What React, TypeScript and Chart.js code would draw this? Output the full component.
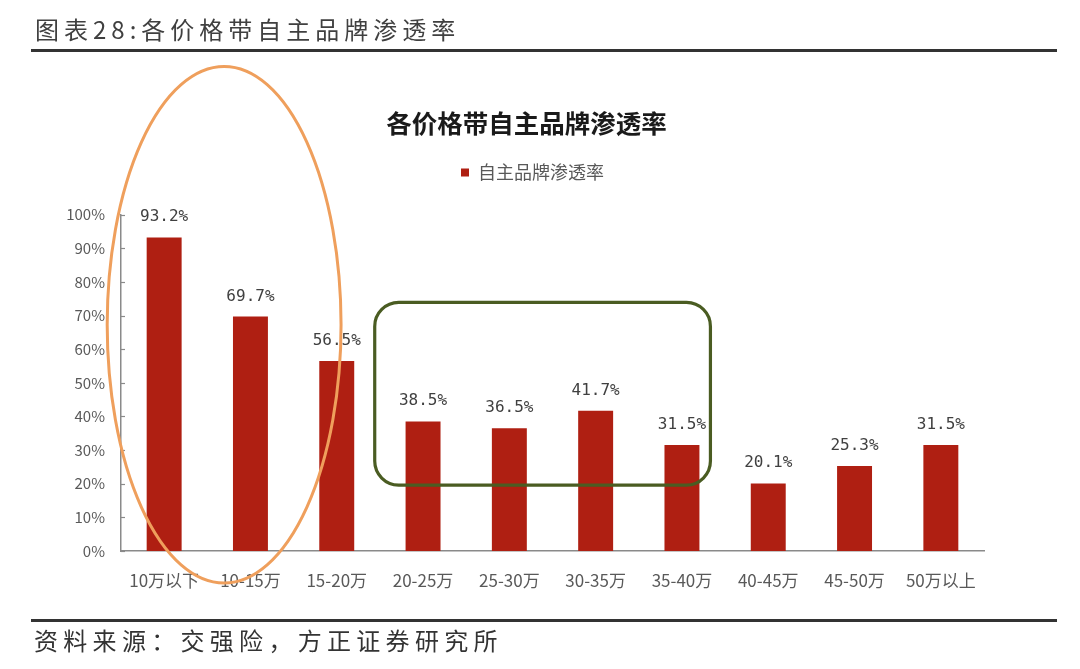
import React, { useEffect, useRef } from 'react';
import { Chart, registerables } from 'chart.js';

Chart.register(...registerables);

// ---- data ----
const categories = ['10万以下', '10-15万', '15-20万', '20-25万', '25-30万', '30-35万', '35-40万', '40-45万', '45-50万', '50万以上'];
const penetration = [93.2, 69.7, 56.5, 38.5, 36.5, 41.7, 31.5, 20.1, 25.3, 31.5];
const seriesName = '自主品牌渗透率';
const chartTitle = '各价格带自主品牌渗透率';
const headerText = '图表28:各价格带自主品牌渗透率';
const sourceText = '资料来源：交强险，方正证券研究所';
const yMin = 0;
const yMax = 100;
const yStep = 10;

// annotation extents in data units (category index / percent)
const ellipseSpan = { xFrom: -0.66, xTo: 2.05, yFrom: -9.5, yTo: 144 };
const boxSpan = { xFrom: 2.44, xTo: 6.33, yFrom: 19.6, yTo: 73.9 };

const BAR_COLOR = '#AF1F12';
const AXIS_COLOR = '#8a8a8a';
const TEXT_GRAY = '#595959';
const CJK = '"Noto Sans CJK SC", "Noto Sans", sans-serif';
const NARROW = '"Liberation Sans Narrow", "Noto Sans CJK SC", sans-serif';

const legendSpacer = {
  id: 'legendSpacer',
  beforeInit(chart: any) {
    const legend = chart.legend;
    if (!legend) return;
    const orig = legend.fit;
    legend.fit = function () {
      orig.call(this);
      this.height += 23;
    };
  },
  afterLayout(chart: any) {
    // nudge the centred title and legend slightly to the right, as in the original
    if (chart.legend) chart.legend.left += 20;
    if (chart.titleBlock) chart.titleBlock.left += 8;
  },
};

const overlayPlugin = {
  id: 'overlay',
  afterDatasetsDraw(chart: any) {
    const { ctx, chartArea, scales } = chart;
    const y = scales.y;
    const meta = chart.getDatasetMeta(0);
    ctx.save();
    // inner tick marks on the y axis
    ctx.strokeStyle = AXIS_COLOR;
    ctx.lineWidth = 1.2;
    y.ticks.forEach((t: any) => {
      const py = Math.round(y.getPixelForValue(t.value)) + 0.5;
      ctx.beginPath();
      ctx.moveTo(chartArea.left, py);
      ctx.lineTo(chartArea.left + 4, py);
      ctx.stroke();
    });
    // value labels
    ctx.font = '16px "DejaVu Sans Mono", monospace';
    ctx.fillStyle = '#404040';
    ctx.textAlign = 'center';
    ctx.textBaseline = 'alphabetic';
    meta.data.forEach((bar: any, i: number) => {
      ctx.fillText(penetration[i].toFixed(1) + '%', bar.x, bar.y - 16);
    });
    ctx.restore();
  },
  afterDraw(chart: any) {
    const { ctx, scales } = chart;
    const x = scales.x;
    const y = scales.y;
    const step = x.getPixelForValue(1) - x.getPixelForValue(0);
    const px = (v: number) => x.getPixelForValue(0) + v * step;
    ctx.save();
    // orange ellipse
    const ex1 = px(ellipseSpan.xFrom), ex2 = px(ellipseSpan.xTo);
    const ey1 = y.getPixelForValue(ellipseSpan.yTo), ey2 = y.getPixelForValue(ellipseSpan.yFrom);
    ctx.strokeStyle = '#EF9F5C';
    ctx.lineWidth = 3;
    ctx.beginPath();
    ctx.ellipse((ex1 + ex2) / 2, (ey1 + ey2) / 2, (ex2 - ex1) / 2, (ey2 - ey1) / 2, 0, 0, Math.PI * 2);
    ctx.stroke();
    // green rounded rectangle
    const bx1 = px(boxSpan.xFrom), bx2 = px(boxSpan.xTo);
    const by1 = y.getPixelForValue(boxSpan.yTo), by2 = y.getPixelForValue(boxSpan.yFrom);
    ctx.strokeStyle = '#4A5C22';
    ctx.lineWidth = 3.2;
    ctx.beginPath();
    (ctx as any).roundRect(bx1, by1, bx2 - bx1, by2 - by1, 24);
    ctx.stroke();
    ctx.restore();
  },
};

export default function App() {
  const canvasRef = useRef<HTMLCanvasElement | null>(null);

  useEffect(() => {
    document.body.style.margin = '0';
    const canvas = canvasRef.current;
    if (!canvas) return;
    const chart = new Chart(canvas, {
      type: 'bar',
      data: {
        labels: categories,
        datasets: [
          {
            label: seriesName,
            data: penetration,
            backgroundColor: BAR_COLOR,
            borderWidth: 0,
            categoryPercentage: 1,
            barPercentage: 0.405,
          },
        ],
      },
      options: {
        animation: false,
        responsive: false,
        maintainAspectRatio: false,
        layout: { padding: { top: 100, left: 61, right: 96, bottom: 78 } },
        plugins: {
          title: {
            display: true,
            text: chartTitle,
            color: '#1a1a1a',
            font: { family: CJK, size: 25.5, weight: 'bold' },
            padding: { top: 8, bottom: 14 },
          },
          legend: {
            display: true,
            position: 'top',
            labels: {
              boxWidth: 8,
              boxHeight: 8,
              padding: 11,
              color: TEXT_GRAY,
              font: { family: CJK, size: 18 },
            },
          },
          tooltip: { enabled: false },
        },
        scales: {
          x: {
            grid: { display: false, drawTicks: false },
            border: { display: true, color: AXIS_COLOR, width: 1.5 },
            ticks: {
              color: TEXT_GRAY,
              font: { family: NARROW, size: 17 },
              padding: 19,
              maxRotation: 0,
              autoSkip: false,
            },
            afterFit: (s: any) => {
              s.height = 40;
            },
          },
          y: {
            min: yMin,
            max: yMax,
            grid: { display: false, drawTicks: false },
            border: { display: true, color: AXIS_COLOR, width: 1.5 },
            ticks: {
              stepSize: yStep,
              color: TEXT_GRAY,
              font: { family: NARROW, size: 15 },
              padding: 16,
              callback: (v: any) => v + '%',
            },
            afterFit: (s: any) => {
              s.width = 60;
            },
          },
        },
      },
      plugins: [legendSpacer, overlayPlugin],
    } as any);
    return () => chart.destroy();
  }, []);

  return (
    <div style={{ position: 'absolute', left: 0, top: 0, width: 1080, height: 669, background: '#fff', overflow: 'hidden' }}>
      <canvas ref={canvasRef} width={1080} height={669} style={{ position: 'absolute', left: 0, top: 0, width: 1080, height: 669 }} />
      <div
        style={{
          position: 'absolute',
          left: 35,
          top: 17,
          fontFamily: CJK,
          fontSize: 24,
          lineHeight: '24px',
          letterSpacing: '5px',
          color: '#404040',
          whiteSpace: 'nowrap',
        }}
      >
        {headerText}
      </div>
      <div style={{ position: 'absolute', left: 31, top: 49, width: 1026, height: 3, background: '#333' }} />
      <div style={{ position: 'absolute', left: 31, top: 619, width: 1026, height: 3, background: '#333' }} />
      <div
        style={{
          position: 'absolute',
          left: 34,
          top: 628,
          fontFamily: CJK,
          fontSize: 24,
          lineHeight: '24px',
          letterSpacing: '5.3px',
          color: '#333',
          whiteSpace: 'nowrap',
        }}
      >
        {sourceText}
      </div>
    </div>
  );
}
